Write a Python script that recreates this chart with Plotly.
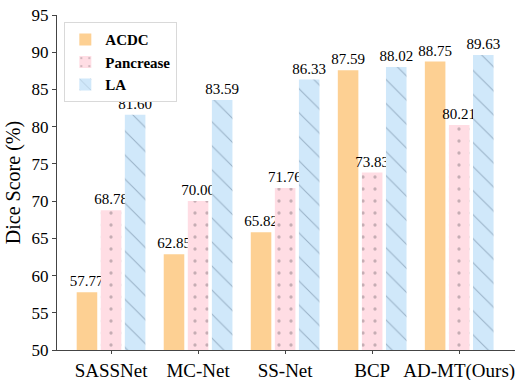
import plotly.graph_objects as go

categories = ["SASSNet", "MC-Net", "SS-Net", "BCP", "AD-MT(Ours)"]
acdc = [57.77, 62.85, 65.82, 87.59, 88.75]
pancreas = [68.78, 70.00, 71.76, 73.83, 80.21]
la = [81.60, 83.59, 86.33, 88.02, 89.63]
series_names = ["ACDC", "Pancrease", "LA"]

font_family = "Liberation Serif"
label_font = dict(family=font_family, size=15, color="black")

fig = go.Figure()
fig.add_trace(go.Bar(
    x=categories, y=acdc, name=series_names[0],
    marker=dict(color="#fdd093", line=dict(width=0)),
    text=[f"{v:.2f}" for v in acdc], textposition="outside", textfont=label_font,
))
fig.add_trace(go.Bar(
    x=categories, y=pancreas, name=series_names[1],
    marker=dict(color="#ffdde4", line=dict(width=0),
                pattern=dict(shape=".", fgcolor="#8e7d84", bgcolor="#ffdde4", size=12, solidity=0.06)),
    text=[f"{v:.2f}" for v in pancreas], textposition="outside", textfont=label_font,
))
fig.add_trace(go.Bar(
    x=categories, y=la, name=series_names[2],
    marker=dict(color="#d0e8fa", line=dict(width=0),
                pattern=dict(shape="\\", fgcolor="#627a92", bgcolor="#d0e8fa", size=17, solidity=0.06)),
    text=[f"{v:.2f}" for v in la], textposition="outside", textfont=label_font,
))

fig.update_traces(cliponaxis=False, constraintext="none")

fig.update_layout(
    width=521, height=380,
    margin=dict(l=56.5, r=6, t=15, b=30, pad=0, autoexpand=False),
    plot_bgcolor="white", paper_bgcolor="white",
    barmode="group", bargap=0.17, bargroupgap=0.146,
    font=dict(family=font_family, color="black"),
    showlegend=True,
    legend=dict(
        x=0.016, y=0.978, xanchor="left", yanchor="top",
        bordercolor="#d9d9d9", borderwidth=1, bgcolor="white",
        font=dict(family=font_family, size=15, color="black", weight="bold"),
        itemsizing="constant", tracegroupgap=3,
    ),
    xaxis=dict(
        range=[-0.621, 4.641], showline=True, linecolor="#444", linewidth=1.3,
        ticks="outside", ticklen=3, tickcolor="#444", tickwidth=1.2,
        tickfont=dict(family=font_family, size=19, color="black"),
        showgrid=False, zeroline=False, automargin=False,
    ),
    yaxis=dict(
        range=[50, 95], dtick=5, showline=True, linecolor="#444", linewidth=1.3,
        ticks="outside", ticklen=4, tickcolor="#444", tickwidth=1.2,
        tickfont=dict(family=font_family, size=17, color="black"),
        title=dict(text="Dice Score (%)", font=dict(family=font_family, size=20, color="black"), standoff=5),
        showgrid=False, zeroline=False, automargin=False,
    ),
)

fig.write_html("out.html", config={"displayModeBar": False},
               post_script="document.body.style.margin='0';")
